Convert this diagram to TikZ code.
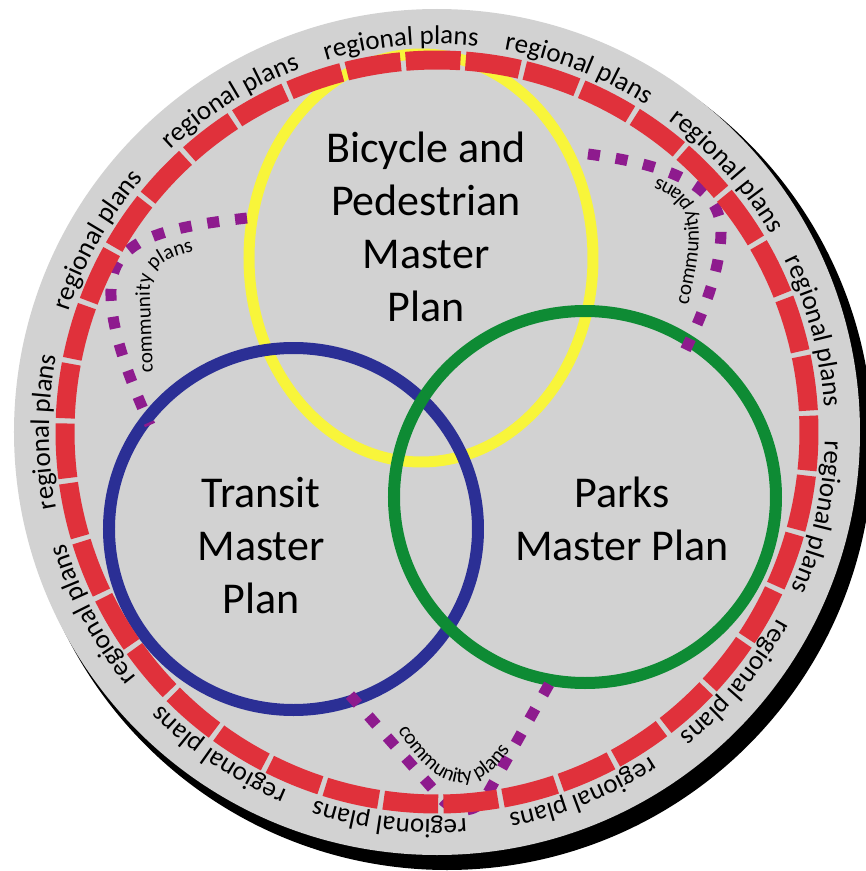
\documentclass[tikz,border=0pt]{standalone}
\usepackage{fontspec}
\setmainfont{Carlito}
\usetikzlibrary{decorations.text}
\definecolor{discGray}{HTML}{D2D2D2}
\definecolor{ringRed}{HTML}{E0313B}
\definecolor{bikeYellow}{HTML}{F8F53A}
\definecolor{transitBlue}{HTML}{2B2F95}
\definecolor{parksGreen}{HTML}{0E8B34}
\definecolor{commPurple}{HTML}{8E1B8E}
\newcommand{\regFont}{\fontsize{27}{27}\selectfont}
\newcommand{\commFont}{\fontsize{21}{21}\selectfont}
\tikzset{
  planLine/.style={line width=12pt},
  ringSeg/.style={ringRed, line width=19pt},
  commLine/.style={commPurple, line width=11pt, dash pattern=on 12pt off 16pt},
  commText/.style={decorate, decoration={text along path, text align=left,
                   text={|\commFont|community plans}}},
  bigLabel/.style={align=center, font=\fontsize{44}{53}\selectfont, inner sep=0pt},
}

\begin{document}
\begin{tikzpicture}[x=1pt, y=1pt]
  \useasboundingbox (-437,-439) rectangle (429,432);
  % disc and its shadow
  \fill[black] (10,-12) circle[radius=426];
  \fill[discGray] (0,0) circle[radius=423];

  % the three master plans
  \draw[planLine, bikeYellow, line width=11pt] (-16,174) ellipse[x radius=172, y radius=204];
  \draw[planLine, transitBlue] (-143.5,-97) ellipse[x radius=184.5, y radius=181];
  \draw[planLine, parksGreen] (148,-65) ellipse[x radius=191, y radius=186];

  % community plans links
  \coordinate (bikeW) at (-190,214);
  \coordinate (transitN) at (-287,7);
  \coordinate (bikeE) at (151,278);
  \coordinate (parksN) at (246,77);
  \coordinate (transitS) at (-87,-263);
  \coordinate (parksS) at (115,-247);
  \draw[commLine] (bikeW) .. controls (-277,204) and (-325,192) .. (-326,142)
                  .. controls (-327,102) and (-307,52) .. (transitN);
  \draw[commLine] (bikeE) .. controls (233,267) and (281,247) .. (284,204)
                  .. controls (285,162) and (263,112) .. (parksN);
  \draw[commLine] (transitS) -- (3,-365) .. controls (15,-380) and (35,-383) .. (47,-368)
                  -- (parksS);

  % regional plans ring
  \foreach \s in {0,...,38}
    \draw[ringSeg] ({\s*360/39+3.3}:372) arc[start angle=\s*360/39+3.3, delta angle=8.43, radius=372];
  \foreach \a in {180,150.5,122,95.3,68.7,42,15,-12.6,-40,-68,-97,-124,-152}
    \path[decorate, decoration={text along path, text align=center,
          text={|\regFont|regional plans}}]
      ({\a+14}:388) arc[start angle=\a+14, end angle=\a-14, radius=388];

  % community plans labels
  \path[commText] (-284,60) -- (-287,132) .. controls (-289,164) and (-277,170) .. (-257,177) -- (-207,192);
  \path[commText] (251,127) .. controls (268,202) and (275,247) .. (193,260);
  \path[commText] (-39,-298) .. controls (3,-368) and (53,-373) .. (91,-283);

  % plan names
  \node[bigLabel] (bike) at (-11,205.5) {Bicycle and\\Pedestrian\\Master\\Plan};
  \node[bigLabel] (transit) at (-176,-114) {Transit\\Master\\Plan};
  \node[bigLabel] (parks) at (185,-87) {Parks\\Master Plan};
\end{tikzpicture}
\end{document}
